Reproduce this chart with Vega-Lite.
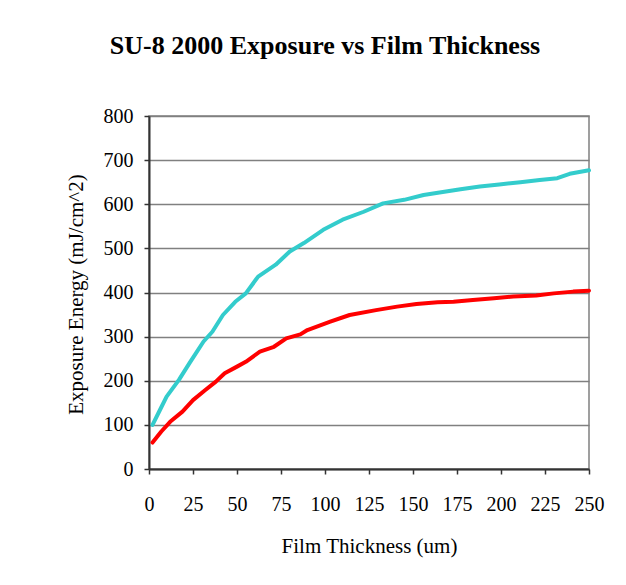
{
  "$schema": "https://vega.github.io/schema/vega-lite/v6.json",
  "width": 440,
  "height": 353,
  "autosize": {"type": "none"},
  "padding": {"left": 149, "top": 116, "right": 37, "bottom": 116},
  "background": "white",
  "title": {
    "text": "SU-8 2000 Exposure vs Film Thickness",
    "font": "Liberation Serif",
    "fontSize": 26,
    "fontWeight": "bold",
    "color": "black",
    "anchor": "middle",
    "frame": "group",
    "dx": -44,
    "offset": 26,
    "baseline": "alphabetic"
  },
  "config": {
    "view": {"stroke": "#808080", "strokeWidth": 1.5},
    "font": "Liberation Serif",
    "axis": {
      "labelFont": "Liberation Serif",
      "titleFont": "Liberation Serif",
      "labelColor": "black",
      "titleColor": "black",
      "titleFontWeight": "normal",
      "domainColor": "#333333",
      "domainWidth": 2,
      "tickColor": "#333333",
      "tickWidth": 1.5,
      "tickSize": 5
    }
  },
  "data": {
    "values": [
      {"t": 2, "e": 100, "s": "A"},
      {"t": 6, "e": 132, "s": "A"},
      {"t": 10, "e": 164, "s": "A"},
      {"t": 17, "e": 202, "s": "A"},
      {"t": 23, "e": 240, "s": "A"},
      {"t": 31, "e": 289, "s": "A"},
      {"t": 36, "e": 311, "s": "A"},
      {"t": 42, "e": 349, "s": "A"},
      {"t": 49, "e": 379, "s": "A"},
      {"t": 55, "e": 398, "s": "A"},
      {"t": 62, "e": 436, "s": "A"},
      {"t": 72, "e": 463, "s": "A"},
      {"t": 80, "e": 493, "s": "A"},
      {"t": 88, "e": 512, "s": "A"},
      {"t": 99, "e": 542, "s": "A"},
      {"t": 110, "e": 565, "s": "A"},
      {"t": 122, "e": 583, "s": "A"},
      {"t": 133, "e": 602, "s": "A"},
      {"t": 145, "e": 610, "s": "A"},
      {"t": 156, "e": 621, "s": "A"},
      {"t": 166, "e": 627, "s": "A"},
      {"t": 177, "e": 634, "s": "A"},
      {"t": 188, "e": 640, "s": "A"},
      {"t": 199, "e": 645, "s": "A"},
      {"t": 211, "e": 650, "s": "A"},
      {"t": 222, "e": 655, "s": "A"},
      {"t": 232, "e": 659, "s": "A"},
      {"t": 239, "e": 669, "s": "A"},
      {"t": 250, "e": 677, "s": "A"},
      {"t": 2, "e": 60, "s": "B"},
      {"t": 7, "e": 85, "s": "B"},
      {"t": 12, "e": 107, "s": "B"},
      {"t": 19, "e": 130, "s": "B"},
      {"t": 25, "e": 156, "s": "B"},
      {"t": 32, "e": 179, "s": "B"},
      {"t": 38, "e": 198, "s": "B"},
      {"t": 43, "e": 217, "s": "B"},
      {"t": 50, "e": 232, "s": "B"},
      {"t": 55, "e": 243, "s": "B"},
      {"t": 63, "e": 266, "s": "B"},
      {"t": 71, "e": 277, "s": "B"},
      {"t": 78, "e": 296, "s": "B"},
      {"t": 86, "e": 305, "s": "B"},
      {"t": 90, "e": 315, "s": "B"},
      {"t": 103, "e": 334, "s": "B"},
      {"t": 114, "e": 349, "s": "B"},
      {"t": 129, "e": 360, "s": "B"},
      {"t": 141, "e": 368, "s": "B"},
      {"t": 152, "e": 374, "s": "B"},
      {"t": 164, "e": 378, "s": "B"},
      {"t": 173, "e": 379, "s": "B"},
      {"t": 184, "e": 383, "s": "B"},
      {"t": 196, "e": 387, "s": "B"},
      {"t": 207, "e": 391, "s": "B"},
      {"t": 220, "e": 393, "s": "B"},
      {"t": 230, "e": 398, "s": "B"},
      {"t": 241, "e": 402, "s": "B"},
      {"t": 250, "e": 404, "s": "B"}
    ]
  },
  "mark": {"type": "line", "strokeWidth": 4, "strokeJoin": "round", "strokeCap": "round"},
  "encoding": {
    "x": {
      "field": "t",
      "type": "quantitative",
      "scale": {"domain": [0, 250], "nice": false},
      "axis": {
        "title": "Film Thickness (um)",
        "values": [0, 25, 50, 75, 100, 125, 150, 175, 200, 225, 250],
        "grid": false,
        "labelFont": "Liberation Serif",
        "titleFont": "Liberation Serif",
        "labelFontSize": 20,
        "titleFontSize": 21,
        "labelPadding": 20,
        "labelFlush": false,
        "titleX": 220,
        "titleY": 77,
        "titleBaseline": "middle"
      }
    },
    "y": {
      "field": "e",
      "type": "quantitative",
      "scale": {"domain": [0, 800], "nice": false},
      "axis": {
        "title": "Exposure Energy (mJ/cm^2)",
        "values": [0, 100, 200, 300, 400, 500, 600, 700, 800],
        "grid": true,
        "gridColor": "#808080",
        "gridWidth": 1.5,
        "gridOpacity": 1,
        "labelFont": "Liberation Serif",
        "titleFont": "Liberation Serif",
        "labelFontSize": 20,
        "titleFontSize": 21,
        "labelPadding": 11,
        "labelFlush": false,
        "titleX": -73,
        "titleY": 178,
        "titleBaseline": "middle",
        "titleAngle": -90
      }
    },
    "color": {
      "field": "s",
      "type": "nominal",
      "scale": {"domain": ["A", "B"], "range": ["#33CCCC", "#FF0000"]},
      "legend": null
    }
  }
}
